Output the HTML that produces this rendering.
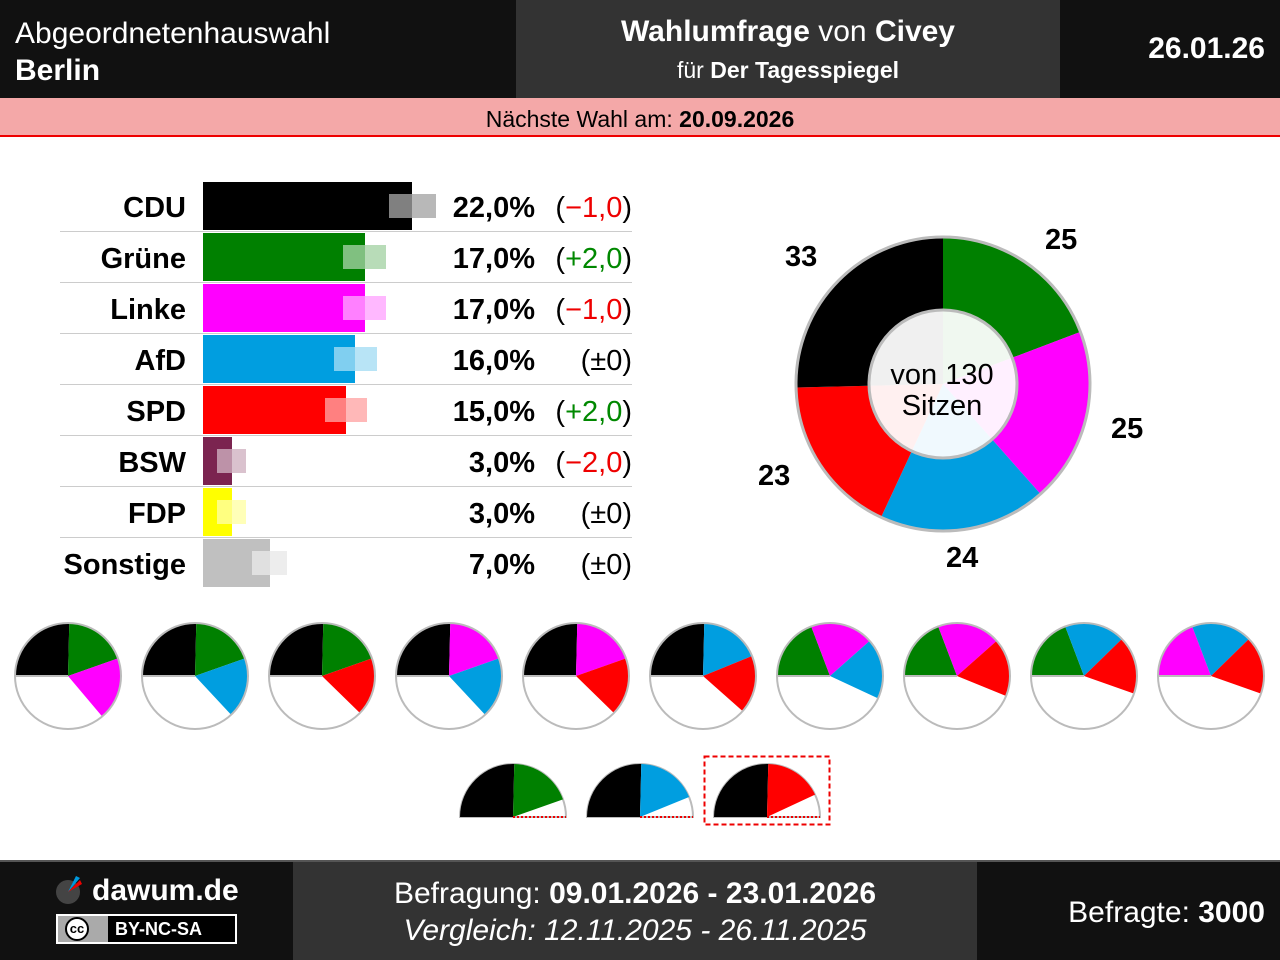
<!DOCTYPE html>
<html><head><meta charset="utf-8"><style>
body{margin:0;width:1280px;height:960px;position:relative;background:#fff;font-family:"Liberation Sans",sans-serif;overflow:hidden}
.abs{position:absolute}
.lbl{position:absolute;right:1094px;font-weight:bold;font-size:29px;text-align:right}
.pct{position:absolute;right:745px;font-weight:bold;font-size:29px}
.chg{position:absolute;right:648px;font-size:29px}
.sep{position:absolute;left:60px;width:572px;height:1px;background:#ccc}
.neg{color:#e00}.pos{color:#080}
</style></head><body>
<div class="abs" style="left:0;top:0;width:516px;height:98px;background:#111"></div>
<div class="abs" style="left:516px;top:0;width:544px;height:98px;background:#333"></div>
<div class="abs" style="left:1060px;top:0;width:220px;height:98px;background:#111"></div>
<div class="abs" style="left:15px;top:15px;color:#fff;font-size:30px;line-height:37px">Abgeordnetenhauswahl<br><b>Berlin</b></div>
<div class="abs" style="left:516px;width:544px;top:15px;text-align:center;color:#fff;font-size:30px"><b>Wahlumfrage</b> von <b>Civey</b></div>
<div class="abs" style="left:516px;width:544px;top:57px;text-align:center;color:#fff;font-size:23px">für <b>Der Tagesspiegel</b></div>
<div class="abs" style="right:15px;top:32px;color:#fff;font-size:30px;font-weight:bold">26.01.26</div>
<div class="abs" style="left:0;top:98px;width:1280px;height:37px;background:#f4a8a8;border-bottom:2px solid #e00;text-align:center;font-size:23px;line-height:42px">Nächste Wahl am: <b>20.09.2026</b></div>

<div id="bars"></div>
<svg id="sv" class="abs" style="left:0;top:0" width="1280" height="860"></svg>

<div class="abs" style="left:785px;top:241px;font-size:29px;font-weight:bold">33</div>
<div class="abs" style="left:1045px;top:224px;font-size:29px;font-weight:bold">25</div>
<div class="abs" style="left:1111px;top:413px;font-size:29px;font-weight:bold">25</div>
<div class="abs" style="left:946px;top:542px;font-size:29px;font-weight:bold">24</div>
<div class="abs" style="left:758px;top:460px;font-size:29px;font-weight:bold">23</div>
<div class="abs" style="left:842px;top:360px;width:200px;text-align:center;font-size:29px;line-height:31px">von 130<br>Sitzen</div>

<div class="abs" style="left:0;top:860px;width:1280px;height:100px;background:#111;border-top:2px solid #555;box-sizing:border-box"></div>
<div class="abs" style="left:293px;top:862px;width:684px;height:98px;background:#333"></div>
<svg class="abs" style="left:54px;top:874px" width="30" height="30"><circle cx="14" cy="18" r="12" fill="#444"/><path d="M14 18 L26 4 L22 2Z" fill="#09d"/><path d="M14 18 L28 10 L26 6Z" fill="#e00"/></svg>
<div class="abs" style="left:92px;top:874px;color:#fff;font-size:30px;font-weight:bold">dawum.de</div>
<div class="abs" style="left:56px;top:914px;width:181px;height:30px;border:2px solid #fff;background:#000;box-sizing:border-box"></div>
<div class="abs" style="left:58px;top:916px;width:50px;height:26px;background:#aaa"></div>
<div class="abs" style="left:65px;top:917px;width:24px;height:24px;border-radius:50%;background:#fff;border:2px solid #000;box-sizing:border-box;font-size:13px;font-weight:bold;line-height:20px;text-align:center">cc</div>
<div class="abs" style="left:115px;top:919px;color:#fff;font-size:18px;font-weight:bold">BY-NC-SA</div>
<div class="abs" style="left:293px;width:684px;top:877px;text-align:center;color:#fff;font-size:30px">Befragung: <b>09.01.2026 - 23.01.2026</b></div>
<div class="abs" style="left:293px;width:684px;top:914px;text-align:center;color:#fff;font-size:30px;font-style:italic">Vergleich: 12.11.2025 - 26.11.2025</div>
<div class="abs" style="right:15px;top:896px;color:#fff;font-size:30px">Befragte: <b>3000</b></div>

<script>
var P={CDU:'#000',Gr:'#008000',Li:'#f0f',AfD:'#009ee0',SPD:'#f00',BSW:'#7b2450',FDP:'#ff0',Son:'#c0c0c0'};
var rows=[["CDU",P.CDU,22,"22,0%",'(<span class="neg">−1,0</span>)',47],
["Grüne",P.Gr,17,"17,0%",'(<span class="pos">+2,0</span>)',43],
["Linke",P.Li,17,"17,0%",'(<span class="neg">−1,0</span>)',43],
["AfD",P.AfD,16,"16,0%",'(±0)',43],
["SPD",P.SPD,15,"15,0%",'(<span class="pos">+2,0</span>)',42],
["BSW",P.BSW,3,"3,0%",'(<span class="neg">−2,0</span>)',29],
["FDP",P.FDP,3,"3,0%",'(±0)',29],
["Sonstige",P.Son,7,"7,0%",'(±0)',35]];
var h='';
rows.forEach(function(r,i){var y=181+51*i;var w=r[2]*9.5;var end=203+w;
h+='<div class="abs" style="left:203px;top:'+(y+1)+'px;width:'+w+'px;height:48px;background:'+r[1]+'"></div>';
h+='<div class="abs" style="left:'+(end-r[5]/2)+'px;top:'+(y+13)+'px;width:'+(r[5]/2)+'px;height:24px;background:rgba(255,255,255,0.5)"></div>';
h+='<div class="abs" style="left:'+end+'px;top:'+(y+13)+'px;width:'+(r[5]/2)+'px;height:24px;background:'+r[1]+';opacity:0.28"></div>';
h+='<div class="lbl" style="top:'+(y+11)+'px">'+r[0]+'</div><div class="pct" style="top:'+(y+11)+'px">'+r[3]+'</div><div class="chg" style="top:'+(y+11)+'px">'+r[4]+'</div>';
if(i<7)h+='<div class="sep" style="top:'+(y+50)+'px"></div>';});
document.getElementById('bars').innerHTML=h;
var s='';
function pt(cx,cy,r,a){return [cx+r*Math.cos(a),cy+r*Math.sin(a)];}
function wedge(cx,cy,r,a0,a1,c){var p0=pt(cx,cy,r,a0),p1=pt(cx,cy,r,a1);var l=(a1-a0)>Math.PI?1:0;
return '<path d="M'+cx+' '+cy+'L'+p0[0]+' '+p0[1]+'A'+r+' '+r+' 0 '+l+' 1 '+p1[0]+' '+p1[1]+'Z" fill="'+c+'"/>';}
var cx=943,cy=384,a=-Math.PI/2;
[[25,P.Gr],[25,P.Li],[24,P.AfD],[23,P.SPD],[33,P.CDU]].forEach(function(d){var b=a+d[0]/130*2*Math.PI;s+=wedge(cx,cy,147,a,b,d[1]);a=b;});
s+='<circle cx="'+cx+'" cy="'+cy+'" r="147" fill="none" stroke="#bbb" stroke-width="3"/>';
s+='<circle cx="'+cx+'" cy="'+cy+'" r="74" fill="rgba(255,255,255,0.94)" stroke="#bbb" stroke-width="3"/>';
var S={CDU:33,Gr:25,Li:25,AfD:24,SPD:23};
var co=[["CDU","Gr","Li"],["CDU","Gr","AfD"],["CDU","Gr","SPD"],["CDU","Li","AfD"],["CDU","Li","SPD"],["CDU","AfD","SPD"],["Gr","Li","AfD"],["Gr","Li","SPD"],["Gr","AfD","SPD"],["Li","AfD","SPD"]];
co.forEach(function(c,i){var x=68+127*i,y=676;s+='<circle cx="'+x+'" cy="'+y+'" r="53" fill="#fff"/>';var a=Math.PI;
c.forEach(function(p){var b=a+S[p]/130*2*Math.PI;s+=wedge(x,y,53,a,b,P[p]);a=b;});
s+='<line x1="'+(x-53)+'" y1="'+y+'" x2="'+x+'" y2="'+y+'" stroke="#bbb" stroke-width="2"/><circle cx="'+x+'" cy="'+y+'" r="53" fill="none" stroke="#bbb" stroke-width="2"/>';});
[["CDU","Gr"],["CDU","AfD"],["CDU","SPD"]].forEach(function(c,i){var x=513+127*i,y=817;
s+='<path d="M'+(x-53)+' '+y+'A53 53 0 0 1 '+(x+53)+' '+y+'Z" fill="#fff" stroke="#bbb" stroke-width="2"/>';var a=Math.PI;
c.forEach(function(p){var b=a+S[p]/65*Math.PI;s+=wedge(x,y,53,a,b,P[p]);a=b;});
s+='<line x1="'+x+'" y1="'+y+'" x2="'+(x+53)+'" y2="'+y+'" stroke="#e00" stroke-width="2" stroke-dasharray="2,2"/>';});
s+='<rect x="704.5" y="756.5" width="125" height="68" fill="none" stroke="#e00" stroke-width="2" stroke-dasharray="5,3"/>';
document.getElementById('sv').innerHTML=s;
</script>
</body></html>
